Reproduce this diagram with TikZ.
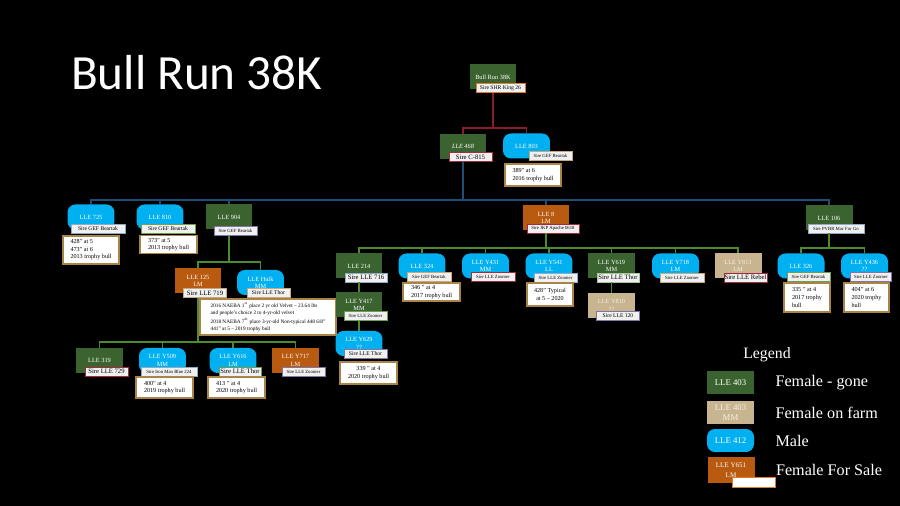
\documentclass[tikz,border=0pt]{standalone}
\usepackage{fontspec}
\setmainfont{Liberation Serif}
\newfontfamily\titlefont{Carlito}
\usetikzlibrary{positioning}
\definecolor{gonegreen}{HTML}{3B6330}
\definecolor{farmtan}{HTML}{C8B48E}
\definecolor{malecyan}{HTML}{00B0F0}
\definecolor{saleorange}{HTML}{B85A10}
\definecolor{infobrown}{HTML}{A98446}
\definecolor{sred}{HTML}{A02C3C}
\definecolor{sblue}{HTML}{8FA9C8}
\definecolor{sgreen}{HTML}{6E9E50}
\definecolor{spurple}{HTML}{8474A4}
\definecolor{stan}{HTML}{C8A878}
\definecolor{sorange}{HTML}{E0782E}
\definecolor{linkred}{HTML}{8C1C2C}
\definecolor{linkblue}{HTML}{1F4E79}
\definecolor{linkgreen}{HTML}{4E8A2E}
\definecolor{sirefill}{HTML}{F0F0F0}

\begin{document}
\begin{tikzpicture}[x=0.02cm, y=-0.02cm, font=\fontsize{3.6}{4.2}\selectfont]
    \tikzstyle{gone} = [rectangle, fill=gonegreen, text=white, minimum width=0.94cm, minimum height=0.5cm, inner sep=0pt, align=center]
    \tikzstyle{farm} = [gone, fill=farmtan, text=white!80!farmtan]
    \tikzstyle{male} = [gone, fill=malecyan, rounded corners=4.5pt]
    \tikzstyle{sale} = [gone, fill=saleorange]
    \tikzstyle{sire} = [rectangle, draw, fill=sirefill, line width=0.5pt, minimum width=0.86cm, minimum height=0.18cm, inner sep=0.3pt, font=\fontsize{2.7}{3}\selectfont]
    \tikzstyle{midsire} = [sire, font=\fontsize{3.2}{3.6}\selectfont]
    \tikzstyle{bigsire} = [sire, font=\fontsize{3.8}{4.2}\selectfont]
    \tikzstyle{info} = [rectangle, draw=infobrown, fill=white, line width=0.9pt, minimum width=1.12cm, inner sep=1.5pt, align=left, font=\fontsize{3.5}{4.3}\selectfont]
    \tikzstyle{legtext} = [text=white, font=\fontsize{9.2}{10}\selectfont]
    \tikzstyle{redlink} = [draw=linkred, line width=0.8pt]
    \tikzstyle{bluelink} = [draw=linkblue, line width=0.7pt]
    \tikzstyle{greenlink} = [draw=linkgreen, line width=0.7pt]

    \useasboundingbox (0,0) rectangle (900,506);
    \fill[black] (0,0) rectangle (900,506);

    \node[anchor=west, text=white, font=\titlefont\fontsize{28}{32}\selectfont] (title) at (65,73) {Bull Run 38K};

    % root and sires
    \node[gone] (root) at (493,77) {Bull Run 38K};
    \node[midsire, draw=sorange, minimum width=0.98cm] (rootsire) at (500.5,88) {Sire SHR King 26};
    \node[gone] (l468) at (463,146.5) {\itshape LLE 468};
    \node[bigsire, draw=sred] (s468) at (470.5,157) {Sire C-815};
    \node[male] (l803) at (526.5,146) {LLE 803};
    \node[sire, draw=stan] (s803) at (550.5,156) {Sire GEF Beartak};
    \node[info, minimum height=0.44cm] (i803) at (533,175) {389” at 6\\2016 trophy bull};

    % third row
    \node[male] (l725) at (91,217) {LLE 725};
    \node[midsire, draw=sblue, minimum width=1.08cm] (s725) at (98,228.5) {Sire GEF Beartak};
    \node[info, minimum height=0.56cm] (i725) at (91,250) {428” at 5\\473” at 6\\2013 trophy bull};
    \node[male] (l810) at (160,217) {LLE 810};
    \node[midsire, draw=sgreen, minimum width=1.08cm] (s810) at (168,228.5) {Sire GEF Beartak};
    \node[info, minimum width=1.14cm, minimum height=0.34cm] (i810) at (168.5,244.5) {373” at 5\\2013 trophy bull};
    \node[gone] (l904) at (229,217) {LLE 904};
    \node[sire, draw=spurple] (s904) at (235.5,231) {Sire GEF Beartak};
    \node[sale] (l8) at (546,218) {LLE 8\\LM};
    \node[sire, draw=sred, minimum width=1.04cm] (s8) at (553,228.5) {Sire JKP Apache 0618};
    \node[gone] (l106) at (829,218) {LLE 106};
    \node[sire, draw=sblue, minimum width=1.12cm] (s106) at (836,228.5) {Sire PVBR Mac For Go};

    % under LLE 904
    \node[sale] (l125) at (198,281) {LLE 125\\LM};
    \node[bigsire, draw=stan] (s125) at (205,293) {Sire LLE 719};
    \node[male] (lhulk) at (260.5,282.5) {LLE Hulk\\MM};
    \node[midsire, draw=stan] (shulk) at (268.5,292.5) {Sire LLE Thor};
    \node[info, minimum width=2.72cm, minimum height=0.72cm, font=\fontsize{3}{3.9}\selectfont] (ihulk) at (268,317)
        {2016 NAEBA 1\textsuperscript{st} place 2 yr old Velvet – 23.64 lbs\\and people’s choice 2 to 4-yr-old velvet\\2018 NAEBA 7\textsuperscript{th} place 3-yr-old Non-typical 448 6/8”\\441” at 5 – 2019 trophy bull};

    % under LLE 125
    \node[gone] (l319) at (99.5,360.5) {LLE 319};
    \node[bigsire, draw=sred] (s319) at (106.5,371.5) {Sire LLE 729};
    \node[male] (ly509) at (162.5,360.5) {LLE Y509\\MM};
    \node[sire, draw=sblue, minimum width=1.12cm] (sy509) at (169,371.5) {Sire Iron Man Blue 224};
    \node[info, minimum width=1.14cm, minimum height=0.42cm] (iy509) at (164.5,387.5) {400” at 4\\2019 trophy bull};
    \node[male] (ly616) at (233,360.5) {LLE Y616\\LM};
    \node[bigsire, draw=sgreen, minimum width=0.84cm] (sy616) at (240,371.5) {Sire LLE Thor};
    \node[info, minimum width=1.14cm, minimum height=0.42cm] (iy616) at (236.5,387.5) {413 ” at 4\\2020 trophy bull};
    \node[sale] (ly717) at (295.5,360.5) {LLE Y717\\LM};
    \node[sire, draw=spurple] (sy717) at (303.5,371.5) {Sire LLE Zoomer};

    % under LLE 8
    \node[gone] (l214) at (359,266) {LLE 214};
    \node[bigsire, draw=sblue, minimum width=0.84cm] (s214) at (366,277.5) {Sire LLE 716};
    \node[male] (l324) at (422,266) {LLE 324};
    \node[sire, draw=stan, minimum width=0.88cm] (s324) at (429,277) {Sire GEF Beartak};
    \node[info, minimum width=1.14cm, minimum height=0.36cm] (i324) at (431.5,292) {346 ” at 4\\2017 trophy bull};
    \node[male] (ly431) at (485.5,266) {LLE Y431\\MM};
    \node[sire, draw=sred, minimum width=0.88cm] (sy431) at (493,277) {Sire LLE Zoomer};
    \node[male] (ly541) at (549,266) {LLE Y541\\LL};
    \node[sire, draw=sblue] (sy541) at (555.5,277.5) {Sire LLE Zoomer};
    \node[info, minimum width=0.92cm, minimum height=0.46cm, align=center] (iy541) at (550,294.5) {428” Typical\\at 5 – 2020};
    \node[gone] (ly619) at (611.5,266) {LLE Y619\\MM};
    \node[bigsire, draw=sgreen!60!white, minimum width=0.84cm] (sy619) at (618,277.5) {Sire LLE Thor};
    \node[male] (ly718) at (675.5,266) {LLE Y718\\LM};
    \node[sire, draw=stan, minimum width=0.88cm] (sy718) at (682,277.5) {Sire LLE Zoomer};
    \node[farm] (ly813) at (738,266) {LLE Y813\\LM};
    \node[bigsire, draw=sred] (sy813) at (745.5,277.5) {Sire LLE Rebel};

    % under LLE 214 and LLE Y619
    \node[gone] (ly417) at (359,305) {LLE Y417\\MM};
    \node[sire, draw=sgreen] (sy417) at (365.5,316) {Sire LLE Zoomer};
    \node[male] (ly629) at (359,343.5) {LLE Y629\\??};
    \node[midsire, draw=spurple] (sy629) at (365.5,353.5) {Sire LLE Thor};
    \node[info, align=center, minimum width=1.14cm, minimum height=0.44cm] (iy629) at (368.5,373) {339 ” at 4\\2020 trophy bull};
    \node[farm] (ly810) at (611.5,305.5) {LLE Y810\\??};
    \node[midsire, draw=spurple] (sy810) at (618,316) {Sire LLE 120};

    % under LLE 106
    \node[male] (l326) at (801,266) {LLE 326};
    \node[sire, draw=sgreen] (s326) at (808.5,277) {Sire GEF Beartak};
    \node[info, minimum width=0.92cm, minimum height=0.58cm] (i326) at (807,297.5) {335 ” at 4\\2017 trophy\\bull};
    \node[male] (ly436) at (864.5,266) {LLE Y436\\??};
    \node[sire, draw=spurple, minimum width=0.82cm] (sy436) at (871,277) {Sire LLE Zoomer};
    \node[info, minimum width=0.9cm, minimum height=0.58cm] (iy436) at (866.5,297.5) {404” at 6\\2020 trophy\\bull};

    % links
    \coordinate (bus1) at (493,128);
    \draw[redlink] (root |- rootsire.south) -- (bus1) -| (l468);
    \draw[redlink] (bus1) -| (l803);
    \coordinate (bus2) at (463,200);
    \draw[bluelink] (l468 |- s468.south) -- (bus2);
    \foreach \n in {l725,l810,l904,l8,l106}
        \draw[bluelink] (bus2) -| (\n);
    \coordinate (bus904) at (229,262);
    \draw[greenlink] (l904 |- s904.south) -- (bus904);
    \foreach \n in {l125,lhulk}
        \draw[greenlink] (bus904) -| (\n);
    \coordinate (bus125) at (198,342);
    \draw[greenlink] (l125 |- s125.south) -- (bus125);
    \foreach \n in {l319,ly509,ly616,ly717}
        \draw[greenlink] (bus125) -| (\n);
    \coordinate (bus8) at (546,248);
    \draw[greenlink] (l8 |- s8.south) -- (bus8);
    \foreach \n in {l214,l324,ly431,ly541,ly619,ly718,ly813}
        \draw[greenlink] (bus8) -| (\n);
    \draw[greenlink] (l214 |- s214.south) -- (ly417);
    \draw[greenlink] (ly417 |- sy417.south) -- (ly629);
    \draw[greenlink] (ly619 |- sy619.south) -- (ly810);
    \coordinate (bus106) at (829,248);
    \draw[greenlink] (l106 |- s106.south) -- (bus106);
    \foreach \n in {l326,ly436}
        \draw[greenlink] (bus106) -| (\n);

    % legend
    \node[text=white, font=\fontsize{9}{10}\selectfont] (legend) at (767,355) {Legend};
    \node[gone, minimum height=0.46cm, font=\fontsize{5}{6}\selectfont] (leg1) at (730.5,382.5) {LLE 403};
    \node[farm, minimum height=0.46cm, font=\fontsize{5}{5.6}\selectfont] (leg2) at (730.5,412.5) {LLE 403\\MM};
    \node[male, minimum height=0.46cm, font=\fontsize{5}{6}\selectfont] (leg3) at (730.5,440.5) {LLE 412};
    \node[sale, minimum height=0.52cm, font=\fontsize{4}{5.5}\selectfont] (leg4) at (731,470) {LLE Y651\\LM};
    \node[sire, draw=sorange, fill=white, minimum height=0.2cm] (leg4sire) at (753.5,482) {};
    \node[legtext, right=0.3cm of leg1] (txt1) {Female - gone};
    \node[legtext, right=0.3cm of leg2] (txt2) {Female on farm};
    \node[legtext, right=0.3cm of leg3] (txt3) {Male};
    \node[legtext, right=0.3cm of leg4] (txt4) {Female For Sale};
\end{tikzpicture}
\end{document}
